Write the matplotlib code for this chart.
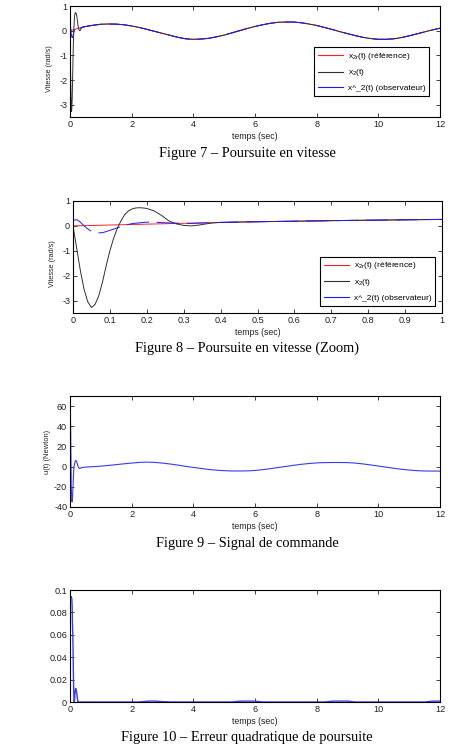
import matplotlib
matplotlib.use("Agg")
import matplotlib.pyplot as plt
from matplotlib.lines import Line2D
from matplotlib.ticker import FormatStrFormatter

plt.rcParams['font.family'] = ['Liberation Sans', 'DejaVu Sans']
plt.rcParams['mathtext.default'] = 'regular'
plt.rcParams['axes.unicode_minus'] = False
plt.rcParams['lines.scale_dashes'] = False

# ---------------- data ----------------

# time grid: fine over the transient, then every 0.25 s
t_fine = [0, 0.01, 0.02, 0.03, 0.04, 0.05, 0.06, 0.07, 0.08, 0.09, 0.10,
          0.11, 0.12, 0.13, 0.14, 0.15, 0.16, 0.17, 0.18, 0.19, 0.20,
          0.22, 0.24, 0.26, 0.28, 0.30, 0.32, 0.34, 0.36, 0.38, 0.40,
          0.45, 0.50]
t_slow = [0.75, 1.0, 1.25, 1.5, 1.75, 2.0, 2.25, 2.5, 2.75, 3.0, 3.25, 3.5,
          3.75, 4.0, 4.25, 4.5, 4.75, 5.0, 5.25, 5.5, 5.75, 6.0, 6.25, 6.5,
          6.75, 7.0, 7.25, 7.5, 7.75, 8.0, 8.25, 8.5, 8.75, 9.0, 9.25, 9.5,
          9.75, 10.0, 10.25, 10.5, 10.75, 11.0, 11.25, 11.5, 11.75, 12.0]

# reference velocity x2r(t)
x2r_fine = [0.0, 0.003, 0.007, 0.010, 0.014, 0.017, 0.021, 0.024, 0.028,
            0.031, 0.035, 0.038, 0.042, 0.045, 0.049, 0.052, 0.056, 0.059,
            0.063, 0.066, 0.070, 0.077, 0.084, 0.091, 0.097, 0.104, 0.111,
            0.117, 0.124, 0.130, 0.137, 0.152, 0.167]
x2r_slow = [0.22, 0.26, 0.27, 0.265, 0.24, 0.19, 0.13, 0.05, -0.03, -0.11,
            -0.19, -0.27, -0.33, -0.35, -0.34, -0.31, -0.25, -0.18, -0.09,
            0.0, 0.09, 0.17, 0.24, 0.30, 0.34, 0.35, 0.35, 0.32, 0.27, 0.21,
            0.13, 0.05, -0.04, -0.12, -0.20, -0.27, -0.32, -0.35, -0.35,
            -0.33, -0.28, -0.21, -0.13, -0.05, 0.03, 0.10]

# measured velocity x2(t) during the transient
x2_fine = [0.0, -0.9, -1.8, -2.55, -3.05, -3.28, -3.15, -2.8, -2.25, -1.6,
           -1.0, -0.5, -0.1, 0.2, 0.45, 0.6, 0.68, 0.72, 0.73, 0.72, 0.70,
           0.60, 0.42, 0.20, 0.08, 0.02, 0.0, 0.03, 0.08, 0.12, 0.14, 0.155,
           0.167]

# observer estimate x^_2(t) during the transient
x2h_fine = [0.22, 0.25, 0.15, 0.0, -0.12, -0.22, -0.26, -0.28, -0.27, -0.23,
            -0.18, -0.13, -0.08, -0.03, 0.02, 0.06, 0.09, 0.11, 0.12, 0.14,
            0.15, 0.15, 0.13, 0.12, 0.11, 0.10, 0.10, 0.11, 0.12, 0.13, 0.14,
            0.155, 0.167]

# control signal u(t)
u_fine = [70, 55, 40, 12, -20, -28, -34, -35, -32, -25, -18, -10, -5, 0,
          2, 3, 4.5, 5.5, 6, 6, 5.8, 4.5, 2.5, 0.5, -1, -1.7, -1.7, -1.5,
          -1.2, -1, -0.9, -0.7, -0.5]
u_slow = [0.0, 0.5, 1.2, 2.0, 2.8, 3.5, 4.2, 4.5, 4.2, 3.5, 2.6, 1.5, 0.3,
          -0.8, -1.8, -2.8, -3.5, -4.0, -4.3, -4.3, -4.2, -3.8, -3.0, -2.0,
          -0.9, 0.2, 1.3, 2.3, 3.1, 3.7, 4.0, 4.1, 4.1, 4.0, 3.5, 2.7, 1.7,
          0.6, -0.5, -1.6, -2.6, -3.4, -4.0, -4.3, -4.4, -4.4]

# squared tracking error
e2_fine = [0.0, 0.094, 0.094, 0.093, 0.094, 0.093, 0.092, 0.085, 0.07,
           0.06, 0.045, 0.025, 0.01, 0.002, 0.0, 0.003, 0.007, 0.010, 0.012,
           0.012, 0.011, 0.008, 0.003, 0.0, 0.0, 0.0, 0.0, 0.0, 0.0, 0.0,
           0.0, 0.0, 0.0]
e2_slow = [0.0, 0.0, 0.0, 0.0, 0.0, 0.0, 0.0, 0.0007, 0.0008, 0.0003, 0.0,
           0.0, 0.0, 0.0, 0.0, 0.0, 0.0, 0.0, 0.0, 0.0007, 0.0008, 0.0007,
           0.0, 0.0, 0.0, 0.0, 0.0, 0.0, 0.0, 0.0, 0.0, 0.0007, 0.0008,
           0.0008, 0.0, 0.0, 0.0, 0.0, 0.0, 0.0, 0.0, 0.0, 0.0, 0.0, 0.0007,
           0.0008]

t = t_fine + t_slow
x2r = x2r_fine + x2r_slow
x2 = x2_fine + x2r_slow      # x2 follows the reference after the transient
x2h = x2h_fine + x2r_slow
u = u_fine + u_slow
e2 = e2_fine + e2_slow

labels = [r'x$_{2r}$(t) (référence)', r'x$_2$(t)', 'x^_2(t) (observateur)']
captions = ['Figure 7 – Poursuite en vitesse',
            'Figure 8 – Poursuite en vitesse (Zoom)',
            'Figure 9 – Signal de commande',
            'Figure 10 – Erreur quadratique de poursuite']

RED, BLACK, BLUE, UBLUE = '#ff2020', '#303030', '#1a1aff', '#3a3af0'
TXT = '#222222'

# ---------------- figure ----------------
W, H = 451, 747
fig = plt.figure(figsize=(W / 100, H / 100), dpi=100)


def make_axes(x0, y0, x1, y1):
    ax = fig.add_axes([x0 / W, 1 - y1 / H, (x1 - x0) / W, (y1 - y0) / H])
    ax.tick_params(direction='in', top=True, right=True, length=3,
                   width=0.6, labelsize=6.6, pad=2, colors=TXT)
    for s in ax.spines.values():
        s.set_linewidth(0.8)
    ax.set_xlabel('temps (sec)', fontsize=6.3, labelpad=2, color=TXT)
    return ax


def velocity_plot(ax, xmax, xticks, legend_xy):
    ax.plot(t, x2r, color=RED, lw=0.7)
    ax.plot(t, x2, color=BLACK, lw=0.7)
    ax.plot(t, x2h, color=BLUE, lw=0.7, ls=(0, (16, 5.5)))
    ax.set_xlim(0, xmax)
    ax.set_ylim(-3.5, 1)
    ax.set_xticks(xticks)
    ax.set_yticks([-3, -2, -1, 0, 1])
    ax.xaxis.set_major_formatter(FormatStrFormatter('%g'))
    ax.yaxis.set_major_formatter(FormatStrFormatter('%g'))
    ax.set_ylabel('Vitesse (rad/s)', fontsize=5.2, color=TXT)
    ax.yaxis.set_label_coords(-0.046, 0.44)
    handles = [Line2D([], [], color=c, lw=0.8) for c in (RED, BLACK, BLUE)]
    leg = ax.legend(handles, labels, loc='lower right',
                    bbox_to_anchor=legend_xy, borderaxespad=0, fontsize=6,
                    fancybox=False, edgecolor='black', framealpha=1,
                    handlelength=3.0, labelspacing=0.7, borderpad=0.45,
                    handletextpad=0.55)
    leg.get_frame().set_linewidth(0.8)


# Figure 7
ax1 = make_axes(70, 6, 440, 117)
velocity_plot(ax1, 12, [0, 2, 4, 6, 8, 10, 12], (0.97, 0.19))

# Figure 8 (zoom)
ax2 = make_axes(73, 201, 442, 313)
velocity_plot(ax2, 1, [0, 0.1, 0.2, 0.3, 0.4, 0.5, 0.6, 0.7, 0.8, 0.9, 1],
              (0.981, 0.065))

# Figure 9
ax3 = make_axes(70, 396, 440, 507)
ax3.plot(t, u, color=UBLUE, lw=0.8)
ax3.set_xlim(0, 12)
ax3.set_ylim(-40, 70)
ax3.set_xticks([0, 2, 4, 6, 8, 10, 12])
ax3.set_yticks([-40, -20, 0, 20, 40, 60])
ax3.set_ylabel('u(t) (Newton)', fontsize=5.4, color=TXT)
ax3.yaxis.set_label_coords(-0.052, 0.5)

# Figure 10
ax4 = make_axes(70, 590, 440, 702)
ax4.plot(t, e2, color=UBLUE, lw=1.0)
ax4.set_xlim(0, 12)
ax4.set_ylim(0, 0.1)
ax4.set_xticks([0, 2, 4, 6, 8, 10, 12])
ax4.set_yticks([0, 0.02, 0.04, 0.06, 0.08, 0.1])
ax4.yaxis.set_major_formatter(FormatStrFormatter('%g'))

# captions
for y, cap in zip([153, 348, 543, 737], captions):
    fig.text(247 / W, 1 - y / H, cap, ha='center', va='center',
             fontsize=10.4, family='Liberation Serif')

fig.savefig('out.png', dpi=100)
